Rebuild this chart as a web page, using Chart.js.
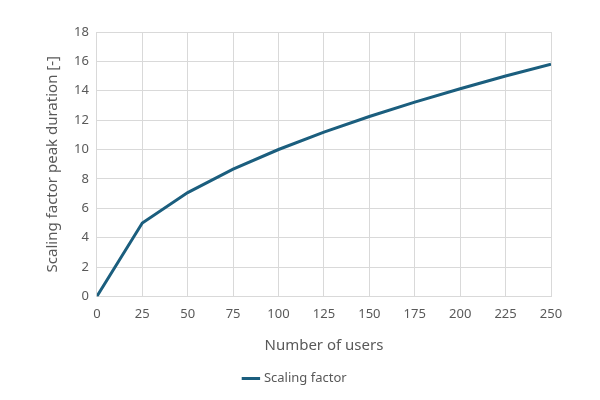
<!DOCTYPE html>
<html>
<head>
<meta charset="utf-8">
<script src="https://cdn.jsdelivr.net/npm/chart.js@4/dist/chart.umd.min.js"></script>
<style>
  html, body { margin: 0; padding: 0; background: #fff; }
  #wrap { width: 600px; height: 400px; }
</style>
</head>
<body>
<div id="wrap"><canvas id="chart" width="600" height="400"></canvas></div>
<script>
const users = [0, 25, 50, 75, 100, 125, 150, 175, 200, 225, 250];
const scalingFactor = [0, 5, 7.07, 8.66, 10, 11.18, 12.25, 13.23, 14.14, 15, 15.81];
const seriesName = 'Scaling factor';
const xTitle = 'Number of users';
const yTitle = 'Scaling factor peak duration [-]';

const textColor = '#595959';
const gridColor = '#d9d9d9';
const lineColor = '#1b5e7e';
const fontFamily = '"Noto Sans", "Open Sans", sans-serif';

new Chart(document.getElementById('chart').getContext('2d'), {
    type: 'line',
    data: {
        datasets: [{
            label: seriesName,
            data: users.map((u, i) => ({ x: u, y: scalingFactor[i] })),
            borderColor: lineColor,
            backgroundColor: lineColor,
            borderWidth: 3,
            pointRadius: 0,
            tension: 0
        }]
    },
    options: {
        responsive: false,
        animation: false,
        layout: { padding: { left: 40, right: 49, top: 32, bottom: 5 } },
        plugins: {
            legend: {
                position: 'bottom',
                labels: {
                    usePointStyle: true,
                    pointStyle: 'line',
                    boxWidth: 40,
                    color: textColor,
                    font: { family: fontFamily, size: 13 },
                    padding: 13
                }
            },
            tooltip: { enabled: false }
        },
        scales: {
            x: {
                type: 'linear',
                min: 0,
                max: 250,
                ticks: { stepSize: 25, color: textColor, font: { family: fontFamily, size: 13 }, padding: 10 },
                grid: { color: gridColor, drawTicks: false },
                border: { color: gridColor },
                title: { display: true, text: xTitle, color: textColor, font: { family: fontFamily, size: 15 }, padding: { top: 5 } }
            },
            y: {
                min: 0,
                max: 18,
                ticks: { stepSize: 2, color: textColor, font: { family: fontFamily, size: 13 }, padding: 8 },
                grid: { color: gridColor, drawTicks: false },
                border: { color: gridColor },
                title: { display: true, text: yTitle, color: textColor, font: { family: fontFamily, size: 15 }, padding: { bottom: 4 } }
            }
        }
    }
});
</script>
</body>
</html>
